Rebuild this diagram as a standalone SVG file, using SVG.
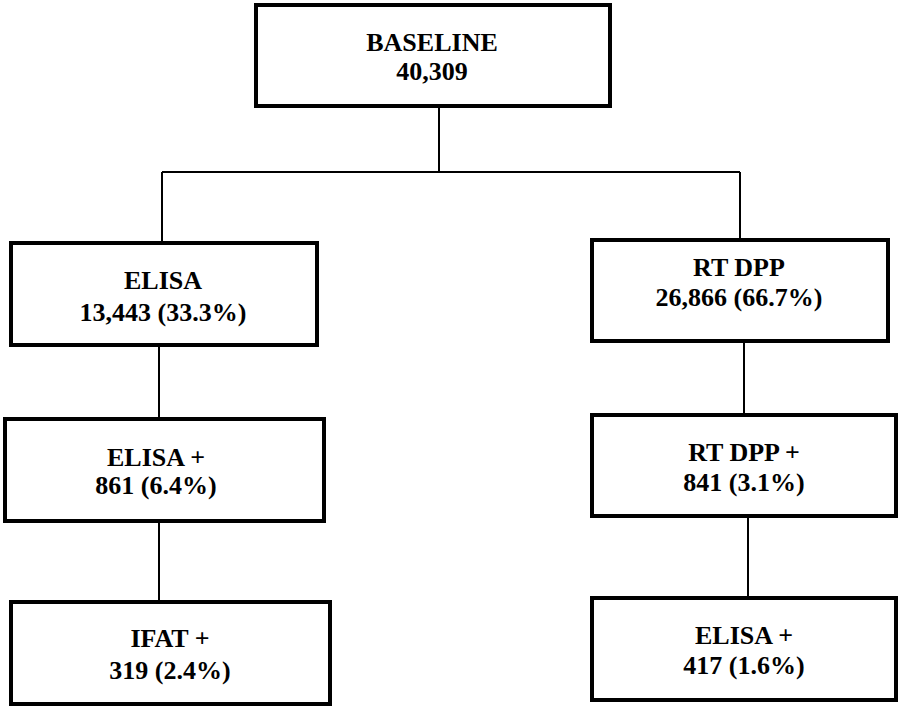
<svg xmlns="http://www.w3.org/2000/svg" width="898" height="709" viewBox="0 0 898 709">
<style>
.box{fill:#fff;stroke:#000;stroke-width:4}
.t{font-family:"Liberation Serif","Times New Roman",serif;font-weight:bold;font-size:26px;text-anchor:middle;fill:#000}
.c{stroke:#000;stroke-width:2;fill:none}
</style>
<rect width="898" height="709" fill="#fff"/>
<g id="connectors">
<path class="c" d="M439 106V172M162 172H740M162 172V243M740 172V240"/>
<path class="c" d="M159 345V419M159 521V602"/>
<path class="c" d="M744 341V415M748 516V598"/>
</g>
<g id="baseline"><rect class="box" x="256" y="5" width="354" height="101"/><text class="t" x="432" y="51">BASELINE</text><text class="t" x="432" y="80">40,309</text></g>
<g id="elisa"><rect class="box" x="11" y="243" width="306" height="102"/><text class="t" x="163" y="289">ELISA</text><text class="t" x="163" y="321">13,443 (33.3%)</text></g>
<g id="rtdpp"><rect class="box" x="592" y="240" width="296" height="101"/><text class="t" x="739" y="276">RT DPP</text><text class="t" x="739" y="306">26,866 (66.7%)</text></g>
<g id="elisa-pos"><rect class="box" x="5" y="419" width="319" height="102"/><text class="t" x="156" y="466">ELISA +</text><text class="t" x="156" y="494">861 (6.4%)</text></g>
<g id="rtdpp-pos"><rect class="box" x="592" y="415" width="304" height="101"/><text class="t" x="744" y="461">RT DPP +</text><text class="t" x="744" y="491">841 (3.1%)</text></g>
<g id="ifat-pos"><rect class="box" x="11" y="602" width="319" height="102"/><text class="t" x="170" y="647">IFAT +</text><text class="t" x="170" y="679">319 (2.4%)</text></g>
<g id="elisa-pos-2"><rect class="box" x="592" y="598" width="304" height="102"/><text class="t" x="744" y="644">ELISA +</text><text class="t" x="744" y="674">417 (1.6%)</text></g>
</svg>
